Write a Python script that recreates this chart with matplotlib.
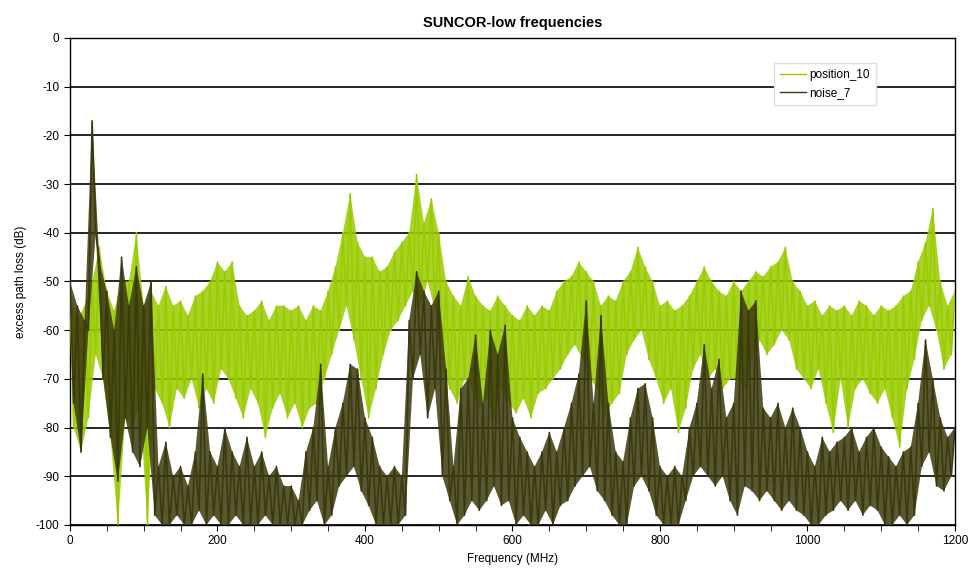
import numpy as np
import matplotlib.pyplot as plt
from matplotlib.ticker import MultipleLocator

plt.rcParams['font.family'] = ['Liberation Sans', 'DejaVu Sans']
plt.rcParams['axes.unicode_minus'] = False

# upper points every 10 MHz (0..1200), lower points in between (5..1195)
freq_hi = np.arange(0, 1201, 10)
freq_lo = np.arange(5, 1200, 10)

pos_hi = [-52, -58, -55, -50, -43, -52, -56, -50, -50, -40,
          -55, -52, -55, -51, -55, -54, -57, -53, -52, -50,
          -46, -48, -46, -55, -57, -56, -54, -58, -55, -55,
          -56, -55, -58, -55, -56, -52, -47, -40, -32, -42,
          -45, -45, -48, -47, -44, -42, -40, -28, -38, -33,
          -40, -50, -53, -55, -49, -53, -55, -56, -53, -55,
          -57, -58, -55, -57, -55, -56, -52, -50, -49, -46,
          -48, -50, -55, -53, -54, -50, -48, -43, -47, -50,
          -55, -54, -56, -55, -53, -50, -47, -50, -52, -53,
          -50, -52, -50, -48, -49, -47, -46, -43, -50, -52,
          -55, -54, -57, -55, -56, -55, -57, -54, -55, -57,
          -55, -56, -55, -53, -52, -46, -42, -35, -50, -55,
          -52]
pos_lo = [-80, -85, -78, -65, -70, -82, -100, -78, -80, -75,
          -100, -72, -75, -80, -72, -74, -70, -76, -72, -75,
          -68, -70, -74, -78, -72, -75, -82, -76, -73, -78,
          -75, -80, -76, -75, -70, -65, -60, -55, -62, -70,
          -78, -72, -65, -60, -58, -55, -52, -55, -50, -56,
          -68, -72, -75, -70, -72, -76, -74, -78, -72, -75,
          -77, -74, -78, -73, -72, -70, -68, -65, -63, -66,
          -70, -72, -78, -75, -73, -65, -62, -60, -66, -70,
          -75, -72, -81, -76, -68, -65, -70, -68, -72, -70,
          -70, -72, -66, -62, -65, -63, -60, -62, -68, -70,
          -72, -68, -75, -81, -70, -80, -72, -70, -73, -75,
          -72, -78, -84, -72, -66, -58, -55, -60, -68, -65]

noise_hi = [-50, -55, -58, -17, -46, -52, -60, -45, -55, -47,
            -55, -50, -88, -83, -90, -88, -92, -85, -69, -85,
            -88, -80, -85, -88, -82, -88, -85, -90, -88, -92,
            -92, -95, -85, -80, -67, -88, -80, -75, -67, -68,
            -78, -82, -88, -90, -88, -90, -58, -48, -52, -55,
            -52, -68, -88, -72, -70, -61, -75, -60, -65, -59,
            -78, -82, -85, -88, -85, -81, -85, -80, -75, -69,
            -54, -75, -57, -75, -85, -87, -78, -72, -71, -78,
            -88, -90, -88, -90, -80, -75, -63, -72, -66, -78,
            -75, -52, -56, -54, -76, -78, -75, -80, -76, -80,
            -85, -88, -82, -85, -83, -82, -80, -85, -82, -80,
            -84, -86, -88, -85, -84, -75, -62, -70, -78, -82,
            -80]
noise_lo = [-75, -85, -60, -40, -70, -82, -91, -78, -85, -88,
            -80, -98, -100, -100, -98, -100, -100, -97, -100, -98,
            -100, -100, -98, -100, -100, -100, -98, -100, -100, -100,
            -100, -100, -97, -95, -100, -98, -92, -90, -88, -93,
            -96, -100, -100, -100, -100, -98, -70, -65, -78, -72,
            -90, -95, -100, -98, -95, -97, -95, -92, -96, -95,
            -100, -98, -100, -100, -97, -100, -96, -95, -92, -90,
            -88, -93, -95, -98, -100, -100, -92, -90, -93, -98,
            -100, -100, -100, -95, -90, -88, -90, -92, -90, -95,
            -98, -92, -93, -95, -93, -95, -97, -95, -97, -98,
            -100, -100, -98, -97, -95, -97, -95, -98, -96, -97,
            -100, -100, -98, -100, -98, -88, -85, -92, -93, -90]


def zigzag(fh, hi, fl, lo):
    # merge the upper and lower readings in frequency order
    f = np.concatenate([fh, fl])
    v = np.concatenate([hi, lo])
    order = np.argsort(f, kind="stable")
    return f[order], v[order]


def band(ax, fh, hi, fl, lo, color, alpha, z):
    # shaded area between the upper readings and the lower readings
    xs = np.concatenate([fh, fl[::-1]])
    ys = np.concatenate([hi, lo[::-1]])
    ax.fill(xs, ys, color=color, alpha=alpha, lw=0, zorder=z)


fig = plt.figure(figsize=(9.73, 5.81), dpi=100)
ax = fig.add_axes([0.0719, 0.0964, 0.9096, 0.8382])

green = "#99cc00"
dark = "#3b3a0e"
band(ax, freq_hi, pos_hi, freq_lo, pos_lo, green, 0.85, 2)
f1, v1 = zigzag(freq_hi, pos_hi, freq_lo, pos_lo)
ax.plot(f1, v1, color=green, lw=1.2, label="position_10", zorder=3)

band(ax, freq_hi, noise_hi, freq_lo, noise_lo, dark, 0.85, 4)
f2, v2 = zigzag(freq_hi, noise_hi, freq_lo, noise_lo)
ax.plot(f2, v2, color=dark, lw=1.2, label="noise_7", zorder=5)

ax.set_xlim(0, 1200)
ax.set_ylim(-100, 0)
ax.xaxis.set_major_locator(MultipleLocator(200))
ax.xaxis.set_minor_locator(MultipleLocator(50))
ax.yaxis.set_major_locator(MultipleLocator(10))
ax.grid(axis="y", color="black", lw=1.2, zorder=1)
ax.set_axisbelow(True)
ax.tick_params(axis="both", which="both", direction="out", color="black", labelsize=8.5)
ax.tick_params(which="major", length=4)
ax.tick_params(which="minor", length=4)
for s in ax.spines.values():
    s.set_color("black")
    s.set_linewidth(1.0)

ax.set_title("SUNCOR-low frequencies", fontsize=10.5, fontweight="bold", pad=8)
ax.set_xlabel("Frequency (MHz)", fontsize=8.5, labelpad=4)
ax.set_ylabel("excess path loss (dB)", fontsize=8.5, labelpad=6)

leg = ax.legend(loc="upper right", bbox_to_anchor=(0.917, 0.96), fontsize=8.5,
                frameon=True, fancybox=False, framealpha=1, edgecolor="#dddddd",
                handlelength=2.2, handletextpad=0.3, borderpad=0.5, labelspacing=0.5)
for h in leg.get_lines():
    h.set_linewidth(1.0)
leg.set_zorder(10)

fig.savefig("out.png", dpi=100)
